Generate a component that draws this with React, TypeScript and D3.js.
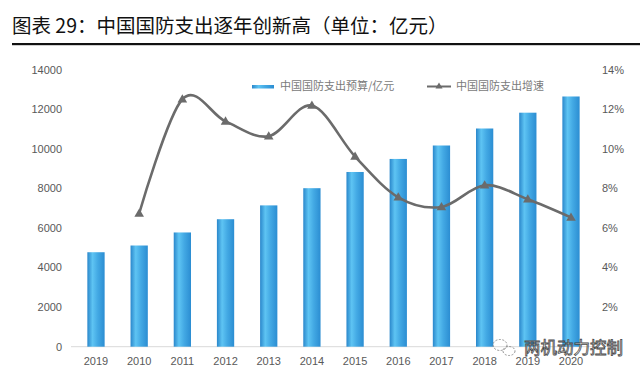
import React from "react";
import * as d3 from "d3";

const years = ["2019", "2010", "2011", "2012", "2013", "2014", "2015", "2016", "2017", "2018", "2019 ", "2020"];
const yearLabels = ["2019", "2010", "2011", "2012", "2013", "2014", "2015", "2016", "2017", "2018", "2019", "2020"];
const budget = [4780, 5120, 5780, 6450, 7150, 8020, 8840, 9500, 10180, 11040, 11840, 12660];
const growth: (number | null)[] = [null, 0.0674, 0.1252, 0.114, 0.1065, 0.122, 0.0962, 0.0756, 0.0707, 0.0817, 0.0746, 0.0654];
const leftTicks = [0, 2000, 4000, 6000, 8000, 10000, 12000, 14000];
const rightTicks = [0.02, 0.04, 0.06, 0.08, 0.1, 0.12, 0.14];
const title = "图表 29：中国国防支出逐年创新高（单位：亿元）";
const seriesNames = ["中国国防支出预算/亿元", "中国国防支出增速"];
const watermark = "两机动力控制";

const W = 640;
const H = 377;
const cjk = "'Noto Sans CJK SC', 'Noto Sans', sans-serif";
const num = "'Liberation Sans', Arial, sans-serif";

export default function App() {
  const x = d3.scaleBand<string>().domain(years).range([74.4, 592.6]).paddingInner(0.6).paddingOuter(0.3);
  const yL = d3.scaleLinear().domain([0, 14000]).range([346.7, 70]);
  const yR = d3.scaleLinear().domain([0, 0.14]).range([346.7, 70]);
  const cx = (d: string) => (x(d) as number) + x.bandwidth() / 2;

  const pts = years
    .map((yr, i) => ({ yr, v: growth[i] }))
    .filter((p) => p.v !== null) as { yr: string; v: number }[];
  const line = d3
    .line<{ yr: string; v: number }>()
    .x((d) => cx(d.yr))
    .y((d) => yR(d.v))
    .curve(d3.curveCardinal.tension(0));

  const tri = d3.symbol().type(d3.symbolTriangle).size(40)();

  return (
    <svg width={W} height={H} style={{ position: "absolute", left: 0, top: 0, background: "#fff" }}>
      <defs>
        <linearGradient id="barGrad" x1="0" x2="1" y1="0" y2="0">
          <stop offset="0%" stopColor="#2a87cb" />
          <stop offset="30%" stopColor="#5ec4f3" />
          <stop offset="60%" stopColor="#43a9e4" />
          <stop offset="100%" stopColor="#2b8dd2" />
        </linearGradient>
      </defs>
      <rect width={W} height={H} fill="#fff" />
      <text x={12} y={33} fontFamily={cjk} fontSize={19.5} fill="#111">
        {title}
      </text>
      <rect x={12} y={43} width={628} height={2.2} fill="#111" />

      {/* axis baseline */}
      <line x1={71} x2={596} y1={yL(0)} y2={yL(0)} stroke="#d9d9d9" strokeWidth={1} />

      {/* left ticks */}
      {leftTicks.map((t) => (
        <text key={"l" + t} x={62} y={yL(t)} dy="0.35em" textAnchor="end" fontFamily={num} fontSize={11} fill="#595959">
          {t}
        </text>
      ))}
      {/* right ticks */}
      {rightTicks.map((t) => (
        <text key={"r" + t} x={602} y={yR(t)} dy="0.35em" textAnchor="start" fontFamily={num} fontSize={11} fill="#595959">
          {Math.round(t * 100) + "%"}
        </text>
      ))}
      {/* x labels */}
      {years.map((yr, i) => (
        <text key={"x" + i} x={cx(yr)} y={361} dy="0.35em" textAnchor="middle" fontFamily={num} fontSize={11} fill="#595959">
          {yearLabels[i]}
        </text>
      ))}

      {/* bars */}
      {years.map((yr, i) => (
        <rect
          key={"b" + i}
          x={x(yr)}
          y={yL(budget[i])}
          width={x.bandwidth()}
          height={yL(0) - yL(budget[i])}
          fill="url(#barGrad)"
        />
      ))}

      {/* line */}
      <path d={line(pts) || ""} fill="none" stroke="#6b6b6b" strokeWidth={2.6} strokeLinejoin="round" />
      {pts.map((p, i) => (
        <path key={"m" + i} d={tri || ""} transform={`translate(${cx(p.yr)},${yR(p.v) + 0.5})`} fill="#6b6b6b" />
      ))}

      {/* legend */}
      <rect x={252} y={85} width={22} height={3.5} fill="url(#barGrad)" />
      <text x={280} y={86.5} dy="0.35em" fontFamily={cjk} fontSize={11} fill="#7a7a7a">
        {seriesNames[0]}
      </text>
      <line x1={427} x2={451} y1={86.5} y2={86.5} stroke="#6b6b6b" strokeWidth={2} />
      <path d={d3.symbol().type(d3.symbolTriangle).size(22)() || ""} transform="translate(439,86.5)" fill="#6b6b6b" />
      <text x={456} y={86.5} dy="0.35em" fontFamily={cjk} fontSize={11} fill="#7a7a7a">
        {seriesNames[1]}
      </text>

      {/* watermark */}
      <g opacity={0.92}>
        <ellipse cx={500} cy={345} rx={7} ry={5.5} fill="none" stroke="#8a8a8a" strokeWidth={1} strokeDasharray="2 1.5" />
        <ellipse cx={509} cy={351} rx={6} ry={4.5} fill="none" stroke="#8a8a8a" strokeWidth={1} strokeDasharray="2 1.5" />
        <text x={524} y={348} dy="0.35em" fontFamily={cjk} fontSize={16.5} fill="#fff" stroke="#3a3a3a" strokeWidth={0.8}>
          {watermark}
        </text>
      </g>
    </svg>
  );
}
